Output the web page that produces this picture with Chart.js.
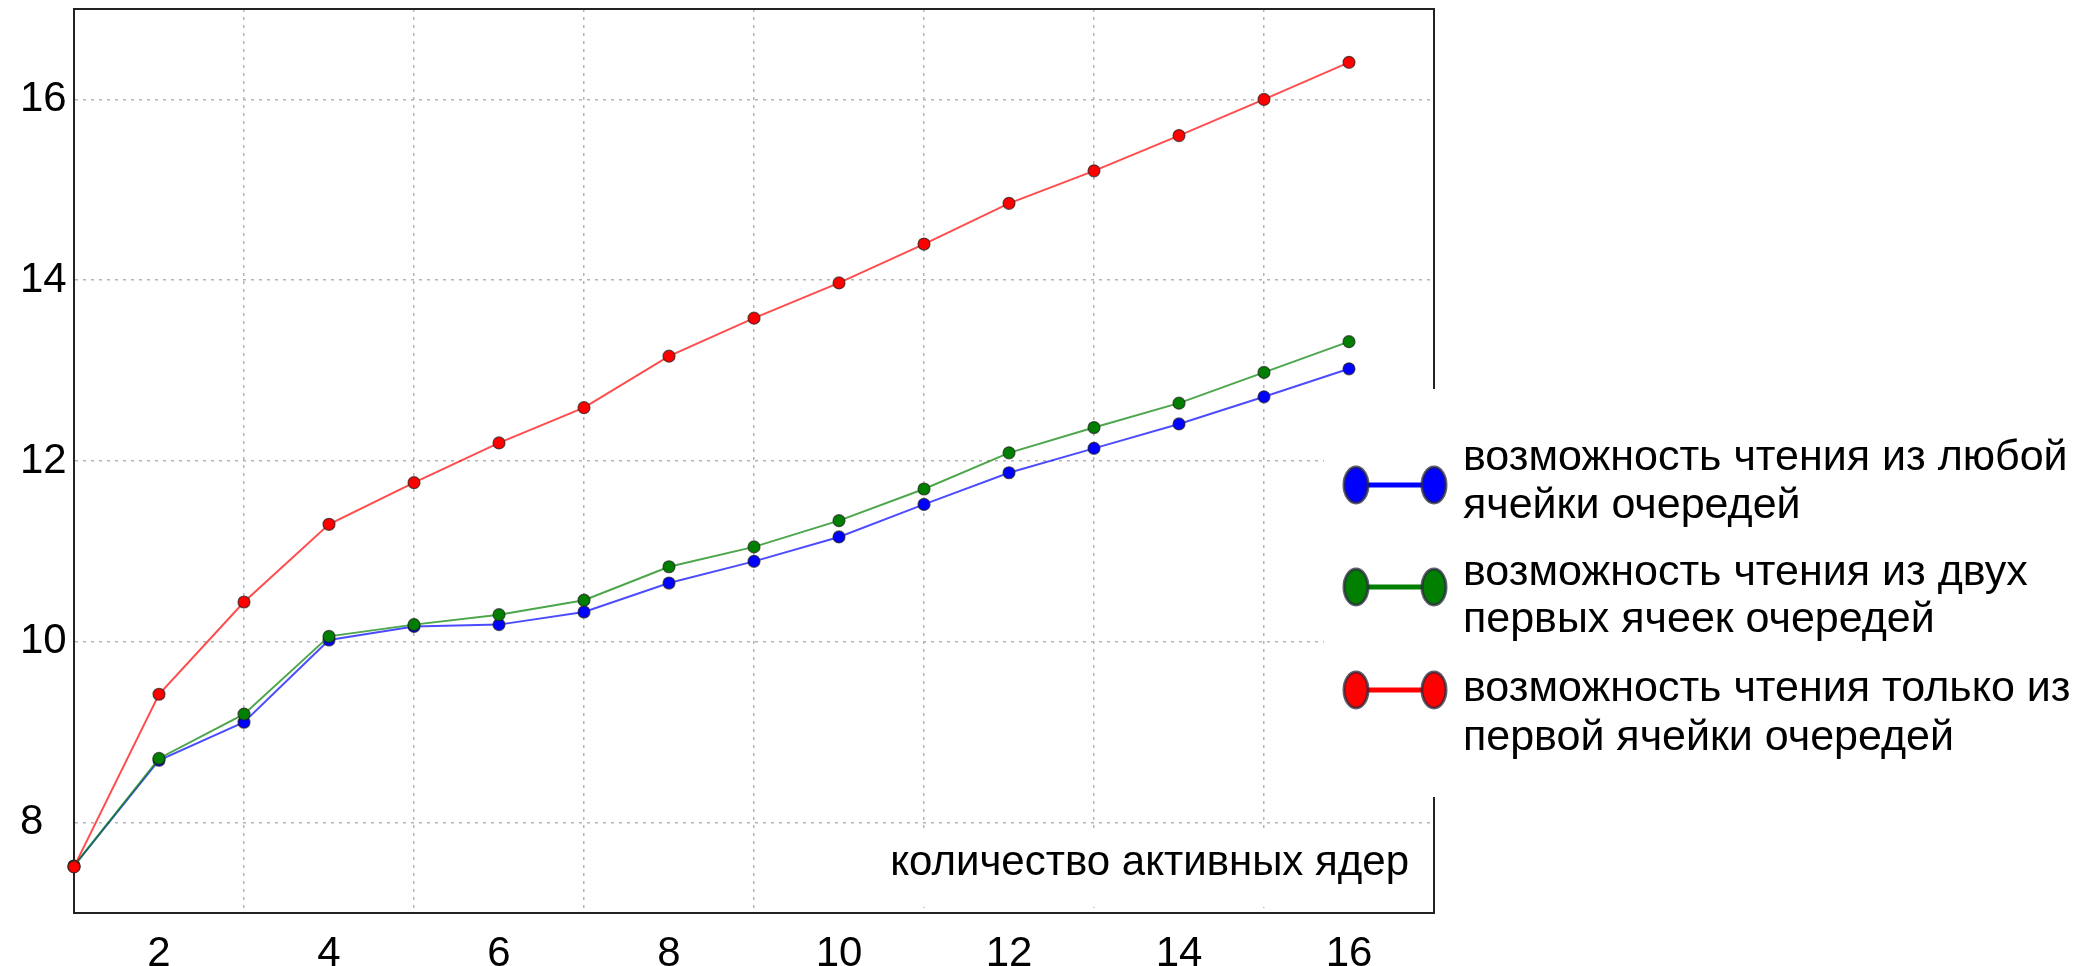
<!DOCTYPE html>
<html>
<head>
<meta charset="utf-8">
<script src="https://cdn.jsdelivr.net/npm/chart.js@4.4.1/dist/chart.umd.min.js"></script>
<style>
  html, body { margin: 0; padding: 0; background: #fff; overflow: hidden; }
  #wrap { width: 2081px; height: 966px; position: relative; }
</style>
</head>
<body>
<div id="wrap"><canvas id="c"></canvas></div>
<script>
(function () {
'use strict';

// number of active cores
const cores = [1, 2, 3, 4, 5, 6, 7, 8, 9, 10, 11, 12, 13, 14, 15, 16];
// read from any cell of the queues
const anyCell = [7.52, 8.69, 9.11, 10.02, 10.17, 10.19, 10.33, 10.65, 10.89, 11.16, 11.52, 11.87, 12.14, 12.41, 12.71, 13.02];
// read from the first two cells
const firstTwo = [7.52, 8.71, 9.20, 10.06, 10.19, 10.30, 10.46, 10.83, 11.05, 11.34, 11.69, 12.09, 12.37, 12.64, 12.98, 13.32];
// read only from the first cell
const firstOnly = [7.51, 9.42, 10.44, 11.30, 11.76, 12.20, 12.59, 13.16, 13.58, 13.97, 14.40, 14.85, 15.21, 15.60, 16.00, 16.41];

const xTickLabels = [2, 4, 6, 8, 10, 12, 14, 16];
const xGridAt = [3, 5, 7, 9, 11, 13, 15];
const yTickLabels = [8, 10, 12, 14, 16];
const legendLines = [
    ['возможность чтения из любой', 'ячейки очередей'],
    ['возможность чтения из двух', 'первых ячеек очередей'],
    ['возможность чтения только из', 'первой ячейки очередей']
];
const xTitle = 'количество активных ядер';

const FONT = '"Liberation Sans", Arial, sans-serif';
const GRID = '#b4b4b4';
const NONE = 'rgba(0,0,0,0)';

const series = [
    { data: anyCell, line: 'rgba(0,0,255,0.7)', dot: '#0000ff', order: 3 },
    { data: firstTwo, line: 'rgba(0,128,0,0.7)', dot: '#007f00', order: 2 },
    { data: firstOnly, line: 'rgba(255,0,0,0.7)', dot: '#ff0000', order: 1 }
];

function noPad(scale) {
    scale.paddingTop = 0; scale.paddingBottom = 0;
    scale.paddingLeft = 0; scale.paddingRight = 0;
}

const frameAndLegend = {
    id: 'frameAndLegend',
    beforeDatasetsDraw(chart) {
        const { ctx, chartArea: a } = chart;
        ctx.save();
        ctx.strokeStyle = '#222';
        ctx.lineWidth = 2;
        ctx.strokeRect(a.left, a.top, a.right - a.left, a.bottom - a.top);
        ctx.restore();
    },
    afterDraw(chart) {
        const { ctx, chartArea: a } = chart;
        ctx.save();
        // axis caption inside the plot, on a white box
        ctx.fillStyle = '#fff';
        ctx.fillRect(a.right - 560, a.bottom - 82, 548, 76);
        ctx.fillStyle = '#000';
        ctx.font = '42px ' + FONT;
        ctx.textAlign = 'right';
        ctx.textBaseline = 'middle';
        ctx.fillText(xTitle, a.right - 25, a.bottom - 50);

        // legend box (white, hides part of the right spine)
        const bx = a.right - 110, by = 389;
        ctx.fillStyle = '#fff';
        ctx.fillRect(bx, by, chart.width - bx, 408);

        const symY = [485, 587, 690];
        const textY = [[458, 506], [573, 620], [689, 738]];
        ctx.font = '43px ' + FONT;
        ctx.textAlign = 'left';
        series.forEach((s, i) => {
            const y = symY[i];
            const x0 = a.right - 78, x1 = a.right;
            ctx.strokeStyle = s.dot;
            ctx.lineWidth = 5;
            ctx.beginPath();
            ctx.moveTo(x0, y);
            ctx.lineTo(x1, y);
            ctx.stroke();
            [x0, x1].forEach(x => {
                ctx.beginPath();
                ctx.ellipse(x, y, 12, 18, 0, 0, Math.PI * 2);
                ctx.fillStyle = s.dot;
                ctx.fill();
                ctx.lineWidth = 3;
                ctx.strokeStyle = 'rgba(40,40,60,0.75)';
                ctx.stroke();
            });
            ctx.fillStyle = '#000';
            legendLines[i].forEach((t, j) => ctx.fillText(t, a.right + 29, textY[i][j]));
        });
        ctx.restore();
    }
};

new Chart(document.getElementById('c').getContext('2d'), {
    type: 'line',
    data: {
        datasets: series.map(s => ({
            data: cores.map((c, i) => ({ x: c, y: s.data[i] })),
            borderColor: s.line,
            borderWidth: 2,
            pointRadius: 6,
            pointBackgroundColor: s.dot,
            pointBorderColor: 'rgba(30,30,30,0.7)',
            pointBorderWidth: 1.2,
            tension: 0,
            clip: false,
            order: s.order
        }))
    },
    options: {
        responsive: true,
        maintainAspectRatio: false,
        animation: false,
        events: [],
        layout: { padding: { left: 20, right: 647, top: 9, bottom: 0 } },
        plugins: { legend: { display: false }, tooltip: { enabled: false } },
        scales: {
            x: {
                type: 'linear',
                min: 1,
                max: 17,
                afterBuildTicks(scale) {
                    const vals = [...new Set([...xTickLabels, ...xGridAt])].sort((p, q) => p - q);
                    scale.ticks = vals.map(v => ({ value: v }));
                },
                afterFit(scale) { scale.height = 53; noPad(scale); },
                border: { display: true, color: '#222', width: 2, dash: [3, 5] },
                grid: {
                    drawTicks: false,
                    color: c => (c.tick && xGridAt.includes(c.tick.value)) ? GRID : NONE,
                    lineWidth: 1.5
                },
                ticks: {
                    autoSkip: false,
                    maxRotation: 0,
                    padding: 16,
                    color: '#000',
                    font: { family: FONT, size: 42 },
                    callback: v => xTickLabels.includes(v) ? String(v) : ''
                }
            },
            y: {
                min: 7,
                max: 17,
                afterBuildTicks(scale) {
                    scale.ticks = yTickLabels.map(v => ({ value: v }));
                },
                afterFit(scale) { scale.width = 54; noPad(scale); },
                border: { display: true, color: '#222', width: 2, dash: [3, 5] },
                grid: {
                    drawTicks: false,
                    color: GRID,
                    lineWidth: 1.5
                },
                ticks: {
                    crossAlign: 'far',
                    padding: 10,
                    color: '#000',
                    font: { family: FONT, size: 42 },
                    callback: v => String(v)
                }
            }
        }
    },
    plugins: [frameAndLegend]
});
})();
</script>
</body>
</html>
